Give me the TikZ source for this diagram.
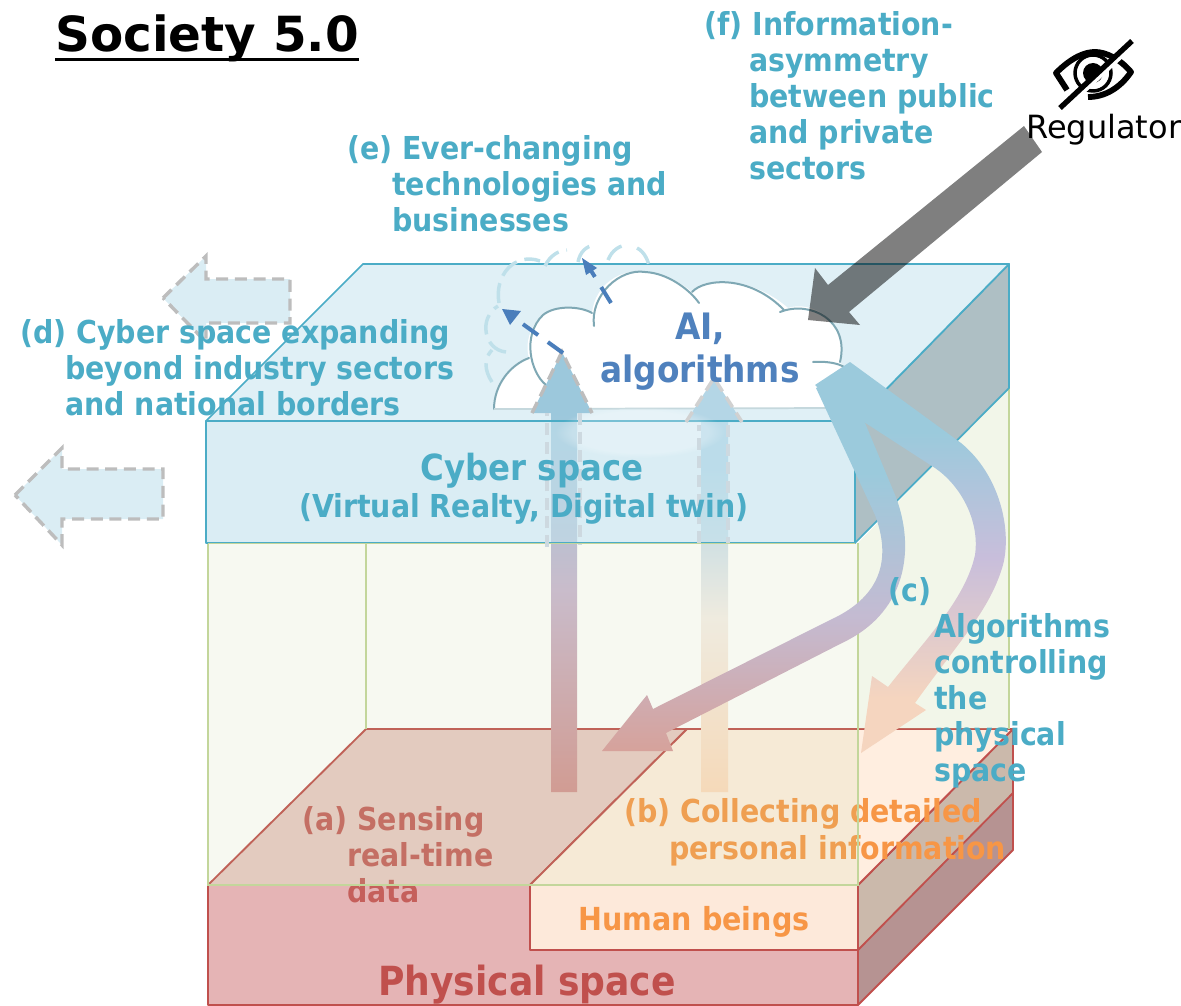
\documentclass[tikz,border=0pt]{standalone}
\usepackage{fontspec}
\usetikzlibrary{fadings}
\setmainfont{DejaVu Sans}
\newfontfamily\cond{DejaVu Sans Condensed Bold}
\definecolor{teal}{HTML}{4BACC6}
\definecolor{redt}{HTML}{C0504D}
\definecolor{oran}{HTML}{F79646}
\definecolor{blu}{HTML}{4F81BD}
\definecolor{blu2}{HTML}{4A7EBB}
\definecolor{ghost}{HTML}{BFE0EA}
\definecolor{gdash}{HTML}{BDBDBD}
\definecolor{gdashl}{HTML}{CDD9E0}
\definecolor{grn}{HTML}{C3D69B}
\definecolor{physfront}{HTML}{E5B4B5}
\definecolor{physA}{HTML}{E9CAC5}
\definecolor{physB}{HTML}{FFEEE0}
\definecolor{physS1}{HTML}{CBB9AB}
\definecolor{physS2}{HTML}{B69392}
\definecolor{human}{HTML}{FDE9DA}
\definecolor{cyfront}{HTML}{C1E1ED}
\definecolor{cytop}{HTML}{E0F0F6}
\definecolor{cyside}{HTML}{AEBFC4}
\definecolor{arrowfill}{HTML}{DAEDF4}
\definecolor{cloudedge}{HTML}{7FA8B4}
\definecolor{aa1}{HTML}{D19C93}\definecolor{aa2}{HTML}{C9BCCB}\definecolor{aa3}{HTML}{9CC8DC}
\definecolor{bb1}{HTML}{F5D9B9}\definecolor{bb2}{HTML}{EFEBDF}\definecolor{bb3}{HTML}{B4D6E6}
\definecolor{cc1}{HTML}{D6A29B}\definecolor{cc2}{HTML}{C4BBD2}\definecolor{cc3}{HTML}{9BCADC}
\definecolor{dd1}{HTML}{F5D5BF}\definecolor{dd2}{HTML}{C8BEDB}\definecolor{dd3}{HTML}{9BCADC}
\pgfdeclareverticalshading{shA}{100bp}{color(0bp)=(aa1);color(25bp)=(aa1);color(48bp)=(aa2);color(68bp)=(aa3);color(100bp)=(aa3)}
\pgfdeclareverticalshading{shB}{100bp}{color(0bp)=(bb1);color(25bp)=(bb1);color(46bp)=(bb2);color(64bp)=(bb3);color(100bp)=(bb3)}
\pgfdeclareverticalshading{shC}{100bp}{color(0bp)=(cc1);color(25bp)=(cc1);color(43bp)=(cc2);color(62bp)=(cc3);color(100bp)=(cc3)}
\pgfdeclareverticalshading{shD}{100bp}{color(0bp)=(dd1);color(32bp)=(dd1);color(50bp)=(dd2);color(66bp)=(dd3);color(100bp)=(dd3)}
\tikzset{
 lab/.style={anchor=base west,align=left,inner sep=0pt,font=\cond\fontsize{23.7}{27}\selectfont},
 cen/.style={anchor=base,align=center,inner sep=0pt},
 redline/.style={draw=redt,line width=1.4pt,line join=round},
 cyberline/.style={draw=teal,line width=1.3pt,line join=round},
 greenline/.style={draw=grn,line width=1.3pt},
 gharrow/.style={draw=gdash,line width=2.6pt,dash pattern=on 9pt off 5pt,line join=miter},
 ghcloud/.style={draw=ghost,line width=2.6pt,dash pattern=on 15pt off 6pt},
 cloudline/.style={draw=cloudedge,line width=1.5pt,line cap=round},
 dasharrow/.style={draw=blu2,line width=3pt,dash pattern=on 14pt off 9pt},
}
\begin{document}
\begin{tikzpicture}[x=0.75pt,y=-0.75pt]
\useasboundingbox (0,0) rectangle (1181,1006);
% physical block
\path[fill=physfront,redline] (208,885) rectangle (858,1005);
\path[fill=physS2,redline] (858,885) -- (1013,729) -- (1013,850) -- (858,1005) -- cycle;
\path[fill=physS1,redline] (858,885) -- (1013,729) -- (1013,793) -- (858,950) -- cycle;
\path[fill=physA,redline] (208,885) -- (366,729) -- (687,729) -- (530,885) -- cycle;
\path[fill=physB,redline] (530,885) -- (687,729) -- (1013,729) -- (858,885) -- cycle;
\path[fill=human,redline] (530,885) rectangle (858,950);
\node[lab,text=redt!88!physA] (ta) at (302,902) {(a) Sensing\\\hspace*{33.7pt}real-time\\\hspace*{33.7pt}data};
\node[lab,text=oran,font=\cond\fontsize{23.7}{27.6}\selectfont] (tb) at (624,859) {(b) Collecting detailed\\\hspace*{33.7pt}personal information};
% green box
\path[fill=grn,fill opacity=.14] (208,543) rectangle (858,885);
\path[fill=grn,fill opacity=.22] (858,543) -- (1009,388) -- (1009,729) -- (858,729) -- cycle;
\draw[greenline] (208,543) -- (208,885) -- (858,885) -- (858,543);
\draw[greenline] (366,543) -- (366,729);
\draw[greenline] (1009,388) -- (1009,729);
% cyber block
\path[fill=cyside,cyberline] (855,421) -- (1009,264) -- (1009,388) -- (855,543) -- cycle;
\path[fill=cytop,cyberline] (206,421) -- (363,264) -- (1009,264) -- (855,421) -- cycle;
% left arrows
\path[fill=arrowfill,gharrow] (163,298) -- (206,256) -- (206,279) -- (290,279) -- (290,323) -- (206,323) -- (206,342) -- cycle;
\path[fill=arrowfill,gharrow] (15,495) -- (62,448) -- (62,469) -- (163,469) -- (163,519) -- (62,519) -- (62,545) -- cycle;
% ghost cloud
\draw[ghcloud] (492,382) .. controls (484,370) and (484,358) .. (492,350);
\draw[ghcloud] (506,352) .. controls (484,350) and (478,318) .. (498,306);
\draw[ghcloud] (499,303) .. controls (494,275) and (515,252) .. (540,261);
\draw[ghcloud] (545,266) .. controls (550,255) and (560,250) .. (567,250);
\draw[ghcloud] (578,262) .. controls (580,252) and (586,246) .. (595,245);
\draw[ghcloud] (608,260) .. controls (612,250) and (620,245) .. (628,245);
\draw[ghcloud] (637,248) .. controls (645,252) and (649,262) .. (650,271);
% cloud
\path[fill=white] (494,409) .. controls (494,385) and (510,365) .. (529,358)
  .. controls (522,335) and (540,305) .. (567,308) .. controls (578,308) and (586,310) .. (592,313)
  .. controls (595,285) and (620,268) .. (645,272) .. controls (665,274) and (680,282) .. (692,292)
  .. controls (705,278) and (750,275) .. (788,308) .. controls (810,300) and (850,320) .. (840,362)
  .. controls (842,364) and (843,366) .. (844,367) -- (832,408) -- cycle;
\draw[cloudline] (494,409) .. controls (494,385) and (510,365) .. (529,358);
\draw[cloudline] (546,385) .. controls (530,372) and (522,335) .. (543,315) .. controls (555,305) and (580,306) .. (592,313);
\draw[cloudline] (594,326) .. controls (590,295) and (620,268) .. (645,272) .. controls (668,273) and (690,290) .. (699,303);
\draw[cloudline] (692,292) .. controls (705,278) and (750,275) .. (784,310);
\draw[cloudline] (780,312) .. controls (810,300) and (850,320) .. (840,362);
\draw[cloudline] (813,362) .. controls (825,361) and (838,363) .. (844,367);
\draw[draw=cloudedge!45,line width=1.3pt] (494,409) -- (832,408);
% up arrows
\path[shading=shA] (551,792) -- (551,413) -- (532,413) -- (562,352) -- (592,413) -- (577,413) -- (577,792) -- cycle;
\path[shading=shB] (701,792) -- (701,422) -- (686,422) -- (714,378) -- (742,422) -- (728,422) -- (728,792) -- cycle;
% cyber front over arrows
\path[fill=cyfront,fill opacity=.6] (206,421) rectangle (855,543);
\draw[cyberline] (206,421) rectangle (855,543);
\draw[greenline] (208,543.6) -- (855,543.6);
% soft glow under the cloud
\path[fill=white,fill opacity=.25,path fading=circle with fuzzy edge 20 percent] (640,432) ellipse (85 and 26);
% ghost arrows
\draw[gharrow] (532,413) -- (562,352) -- (592,413);
\draw[gharrow,draw=gdash!70] (686,422) -- (714,378) -- (742,422);
\draw[gharrow,draw=gdashl] (547,547) -- (547,413);
\draw[gharrow,draw=gdashl] (580,413) -- (580,545);
\draw[gharrow,draw=gdashl] (699,543) -- (699,425);
\draw[gharrow,draw=gdashl] (728,425) -- (728,543);
% dashed blue arrows
\draw[dasharrow] (563,353) -- (513,317);
\path[fill=blu2] (502,309) -- (521,311) -- (510,325) -- cycle;
\draw[dasharrow] (611,303) -- (590,269);
\path[fill=blu2] (582,258) -- (597,268) -- (586,275) -- cycle;
% curved arrows
\path[shading=shD] (850,362) -- (961,443) .. controls (1000,475) and (1012,530) .. (1003,565)
  .. controls (990,610) and (960,640) .. (915,703) -- (926,710) -- (861,753) -- (872,676) -- (888,687)
  .. controls (925,640) and (965,600) .. (975,555) .. controls (980,520) and (960,485) .. (935,468) -- (830,400) -- (815,385) -- cycle;
\path[shading=shC] (845,375) -- (893,490) .. controls (915,540) and (912,610) .. (842,643)
  -- (666,733) -- (673,751) -- (602,751) -- (647,695) -- (653,709) -- (830,620)
  .. controls (885,595) and (890,555) .. (875,515) -- (816,388) -- cycle;
% regulator arrow
\path[fill=black,fill opacity=.5] (1024,126) -- (1042,152) -- (849,312) -- (860,325) -- (808,320) -- (815,268) -- (828,285) -- cycle;
% eye icon
\draw[line width=4.4pt,line join=round] (1067,90) -- (1056,73) .. controls (1072,57) and (1085,52) .. (1095,52) .. controls (1106,52) and (1120,59) .. (1131,72) .. controls (1120,88) and (1105,97) .. (1088,97);
\draw[line width=2.6pt] (1093,73) circle (18);
\path[fill=black] (1093,73) circle (10);
\draw[line width=3pt,draw=white] (1066,108) -- (1137,42);
\draw[line width=4pt] (1060,108) -- (1132,41);
\node[anchor=base west,inner sep=0pt,font=\fontsize{24}{28}\selectfont] (reg) at (1026,138) {Regulator};
% texts
\node[anchor=base west,inner sep=0pt,font=\bfseries\fontsize{36.3}{44}\selectfont] (title) at (55,52) {Society 5.0};
\draw[line width=2.2pt] ([yshift=-5.5pt]title.base west) -- ([yshift=-5.5pt]title.base east);
\node[lab,text=teal] (tf) at (704,179) {(f) Information-\\\hspace*{33.7pt}asymmetry\\\hspace*{33.7pt}between public\\\hspace*{33.7pt}and private\\\hspace*{33.7pt}sectors};
\node[lab,text=teal] (te) at (347,231) {(e) Ever-changing\\\hspace*{33.7pt}technologies and\\\hspace*{33.7pt}businesses};
\node[lab,text=teal] (td) at (20,415) {(d) Cyber space expanding\\\hspace*{33.7pt}beyond industry sectors\\\hspace*{33.7pt}and national borders};
\node[lab,text=teal] (tc) at (888,781) {(c)\\\hspace*{34.5pt}Algorithms\\\hspace*{34.5pt}controlling\\\hspace*{34.5pt}the\\\hspace*{34.5pt}physical\\\hspace*{34.5pt}space};
\node[cen,text=teal,font=\cond\fontsize{27}{32}\selectfont] (cy1) at (532,480) {Cyber space};
\node[cen,text=teal,font=\cond\fontsize{23.7}{27}\selectfont] (cy2) at (524,517) {(Virtual Realty, Digital twin)};
\node[cen,text=blu,font=\cond\fontsize{27.3}{32}\selectfont] (ai) at (700,382) {AI,\\algorithms};
\node[cen,text=oran,font=\cond\fontsize{23.8}{27}\selectfont] (hb) at (694,930) {Human beings};
\node[cen,text=redt,font=\cond\fontsize{30.1}{32}\selectfont] (ps) at (527,995) {Physical space};
\end{tikzpicture}
\end{document}
